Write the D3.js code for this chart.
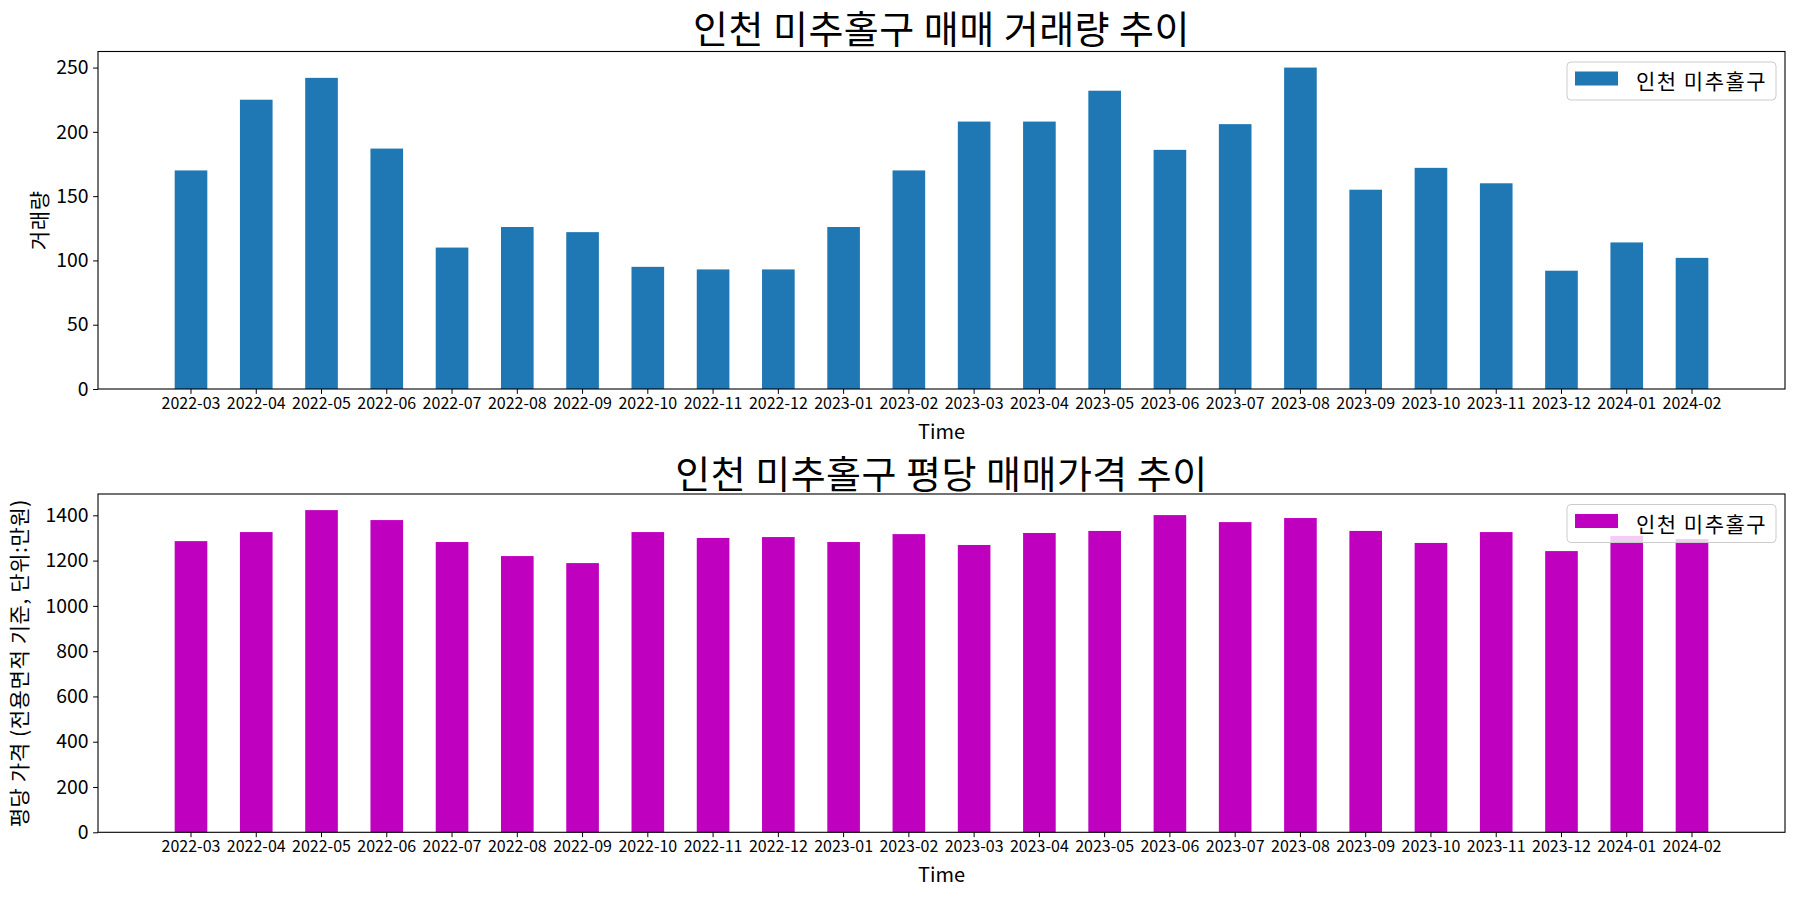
<!DOCTYPE html>
<html>
<head>
<meta charset="utf-8">
<script src="https://cdn.jsdelivr.net/npm/d3@7"></script>
<style>
  html, body { margin: 0; padding: 0; background: #fff; }
  svg { display: block; }
  text { font-family: "Noto Sans CJK KR", "Noto Sans", sans-serif; fill: #000; }
</style>
</head>
<body>
<svg id="chart" width="1800" height="900"></svg>
<script>
// ---- data ----
const months = ["2022-03","2022-04","2022-05","2022-06","2022-07","2022-08","2022-09","2022-10","2022-11","2022-12",
                "2023-01","2023-02","2023-03","2023-04","2023-05","2023-06","2023-07","2023-08","2023-09","2023-10",
                "2023-11","2023-12","2024-01","2024-02"];
const volume = [170,225,242,187,110,126,122,95,93,93,126,170,208,208,232,186,206,250,155,172,160,92,114,102];
const pricePerPyeong = [1286,1326,1423,1379,1282,1220,1189,1326,1300,1304,1282,1317,1269,1322,1331,1401,1370,1388,1331,1278,1326,1242,1309,1295];
const volumeTicks = [0,50,100,150,200,250];
const priceTicks = [0,200,400,600,800,1000,1200,1400];
const seriesName = "인천 미추홀구";
const titles = ["인천 미추홀구 매매 거래량 추이", "인천 미추홀구 평당 매매가격 추이"];
const yLabels = ["거래량", "평당 가격 (전용면적 기준, 단위:만원)"];
const xLabel = "Time";

const svg = d3.select("#chart");

function drawPanel(cfg) {
  const { top, bottom, left, right, values, ticks, color, title, yLabel, yLabelX, titleY } = cfg;
  const g = svg.append("g");
  const x = d3.scaleBand().domain(months).range([left, right]).paddingInner(0.5).paddingOuter(1.175);
  const maxV = d3.max(values);
  const y = d3.scaleLinear().domain([0, maxV * 1.05]).range([bottom, top]);

  // bars
  g.selectAll("rect.bar").data(values).join("rect")
    .attr("class", "bar")
    .attr("x", (d, i) => x(months[i]))
    .attr("width", x.bandwidth())
    .attr("y", d => y(d))
    .attr("height", d => y(0) - y(d))
    .attr("fill", color);

  // axes
  const ax = g.append("g").attr("transform", `translate(0,${bottom})`)
    .call(d3.axisBottom(x).tickSize(4.9).tickPadding(3.5).tickSizeOuter(0));
  ax.select(".domain").remove();
  ax.selectAll("line").attr("stroke", "#000").attr("stroke-width", 1);
  ax.selectAll("text").style("font-size", "16px").attr("fill", "#000");

  const ay = g.append("g").attr("transform", `translate(${left},0)`)
    .call(d3.axisLeft(y).tickValues(ticks).tickFormat(d3.format("d")).tickSize(4.9).tickPadding(4.5).tickSizeOuter(0));
  ay.select(".domain").remove();
  ay.selectAll("line").attr("stroke", "#000").attr("stroke-width", 1);
  ay.selectAll("text").style("font-size", "19.4px").attr("fill", "#000");

  // frame
  g.append("rect").attr("x", left).attr("y", top).attr("width", right - left).attr("height", bottom - top)
    .attr("fill", "none").attr("stroke", "#000").attr("stroke-width", 1.1);

  // title
  g.append("text").attr("x", (left + right) / 2).attr("y", titleY)
    .attr("text-anchor", "middle").attr("dominant-baseline", "central")
    .style("font-size", "38px").style("letter-spacing", "0.5px").text(title);

  // x label
  g.append("text").attr("x", (left + right) / 2).attr("y", bottom + 41.5)
    .attr("text-anchor", "middle").attr("dominant-baseline", "central")
    .style("font-size", "20px").text(xLabel);

  // y label
  g.append("text").attr("transform", `translate(${yLabelX},${(top + bottom) / 2}) rotate(-90)`)
    .attr("text-anchor", "middle").attr("dominant-baseline", "central")
    .style("font-size", "21px").style("letter-spacing", "0.6px").text(yLabel);

  // legend
  const lg = g.append("g");
  lg.append("rect").attr("x", 1567).attr("y", top + 10.5).attr("width", 209).attr("height", 38)
    .attr("rx", 4).attr("fill", "#fff").attr("fill-opacity", 0.8).attr("stroke", "#cccccc").attr("stroke-width", 1);
  lg.append("rect").attr("x", 1575).attr("y", top + 20).attr("width", 43).attr("height", 14).attr("fill", color);
  lg.append("text").attr("x", 1636).attr("y", top + 28.5).attr("dominant-baseline", "central")
    .style("font-size", "21px").style("letter-spacing", "1.5px").text(seriesName);
}

drawPanel({ top: 51.5, bottom: 389, left: 98, right: 1785, values: volume, ticks: volumeTicks,
  color: "#1f77b4", title: titles[0], yLabel: yLabels[0], yLabelX: 38, titleY: 26 });
drawPanel({ top: 494, bottom: 832.3, left: 98, right: 1785, values: pricePerPyeong, ticks: priceTicks,
  color: "#bf00bf", title: titles[1], yLabel: yLabels[1], yLabelX: 18, titleY: 471.5 });
</script>
</body>
</html>
